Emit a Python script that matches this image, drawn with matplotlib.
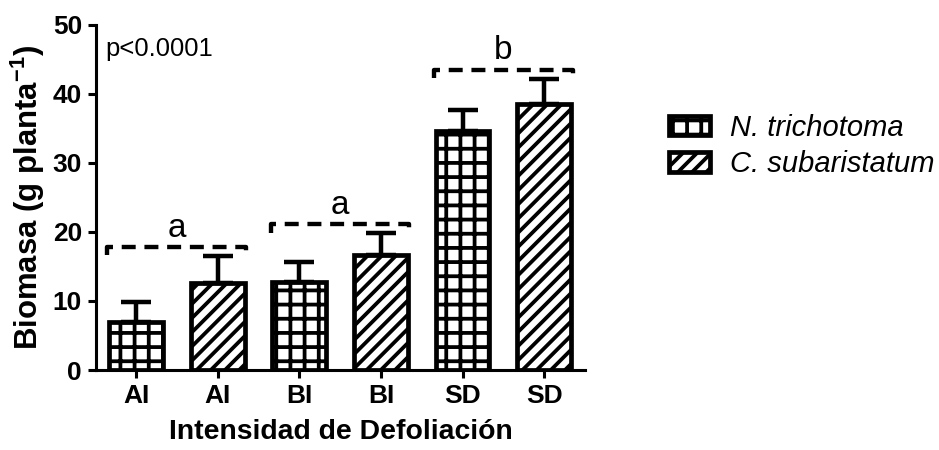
import matplotlib
matplotlib.use("Agg")
import matplotlib.pyplot as plt
import numpy as np

DPI = 170

plt.rcParams.update(
    {
        "font.family": ["Liberation Sans", "DejaVu Sans"],
        "hatch.linewidth": 1.6,
        "mathtext.fontset": "custom",
        "mathtext.rm": "Liberation Sans:bold",
        "mathtext.default": "rm",
    }
)

# Data
tick_labels = ["AI", "AI", "BI", "BI", "SD", "SD"]
species = ["N. trichotoma", "C. subaristatum"]
means = [7.0, 12.6, 12.8, 16.7, 34.6, 38.5]
sem = [2.9, 3.9, 2.8, 3.1, 3.1, 3.7]
groups = [(0, 1), (2, 3), (4, 5)]
group_letters = ["a", "a", "b"]
hatches = ["++", "////"]

fig = plt.figure(figsize=(939 / DPI, 450 / DPI), dpi=DPI)
ax = fig.add_axes([96 / 939, 80 / 450, (585 - 96) / 939, (370 - 25) / 450])

x = np.arange(len(means))
bars = ax.bar(
    x,
    means,
    width=0.66,
    color="white",
    edgecolor="black",
    linewidth=2.0,
    hatch=[hatches[i % 2] for i in range(len(means))],
    zorder=2,
)

ax.errorbar(
    x,
    means,
    yerr=[np.zeros(len(sem)), sem],
    fmt="none",
    ecolor="black",
    elinewidth=1.9,
    capsize=6.2,
    capthick=1.9,
    zorder=3,
)

# significance brackets
for (i, j), letter in zip(groups, group_letters):
    top = max(means[i] + sem[i], means[j] + sem[j])
    yb = top + 1.3
    x0, x1 = x[i] - 0.35, x[j] + 0.35
    ax.plot(
        [x0, x0, x1, x1],
        [yb - 1.2, yb, yb, yb - 1.2],
        color="black",
        lw=1.85,
        ls=(0, (3.2, 2.0)),
        solid_capstyle="butt",
        clip_on=False,
        zorder=4,
    )
    ax.text((x[i] + x[j]) / 2, yb + 1.5, letter, ha="center", va="baseline",
            fontsize=14.1)

ax.text(0.02, 0.965, "p<0.0001", transform=ax.transAxes, ha="left", va="top",
        fontsize=10.85)

ax.set_xlim(-0.49, 5.5)
ax.set_ylim(0, 50)
ax.set_yticks([0, 10, 20, 30, 40, 50])
ax.set_xticks(x)
ax.set_xticklabels(tick_labels)
for lab in ax.get_xticklabels() + ax.get_yticklabels():
    lab.set_fontweight("bold")
    lab.set_fontsize(11.2)
ax.tick_params(direction="out", length=3.5, width=1.3, pad=2.4)

for s in ["top", "right"]:
    ax.spines[s].set_visible(False)
for s in ["left", "bottom"]:
    ax.spines[s].set_linewidth(1.3)

ax.set_xlabel("Intensidad de Defoliación", fontsize=12, fontweight="bold",
              labelpad=4.8)
ax.set_ylabel(r"Biomasa (g planta$^{-1}$)", fontsize=13.2, fontweight="bold",
              labelpad=2.2)

handles = [bars[0], bars[1]]
leg = fig.legend(
    handles,
    species,
    loc="center left",
    bbox_to_anchor=(643 / 939, 1 - 146 / 450),
    frameon=False,
    prop={"style": "italic", "size": 12.35},
    handlelength=1.4,
    handleheight=0.65,
    handletextpad=0.7,
    labelspacing=0.3,
)

fig.savefig("out.png", dpi=DPI)
